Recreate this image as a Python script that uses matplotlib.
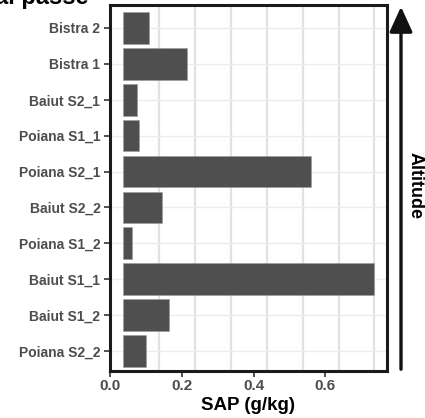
import numpy as np
import matplotlib
matplotlib.use("Agg")
import matplotlib.pyplot as plt

# Samples, listed bottom to top as they appear on the chart
samples = ["Poiana S2_2", "Baiut S1_2", "Baiut S1_1", "Poiana S1_2", "Baiut S2_2",
           "Poiana S2_1", "Poiana S1_1", "Baiut S2_1", "Bistra 1", "Bistra 2"]
# SAP values (g/kg)
sap = [0.099, 0.164, 0.737, 0.062, 0.145, 0.560, 0.082, 0.074, 0.215, 0.109]
# bars in the original start a little right of zero
baseline = 0.037

x_ticks = [0.0, 0.2, 0.4, 0.6]
x_tick_labels = ["0.0", "0.2", "0.4", "0.6"]
grid_x = [0.137, 0.237, 0.337, 0.437, 0.537, 0.637, 0.737]

plt.rcParams['font.family'] = ['Liberation Sans', 'DejaVu Sans']

fig = plt.figure(figsize=(4.25, 4.18), dpi=100)
ax = fig.add_axes([0.2588, 0.1124, 0.6518, 0.8756])

y = np.arange(len(samples))
widths = [v - baseline for v in sap]

# grid first so it sits under the bars
for gx in grid_x:
    ax.axvline(gx, color="#e2e2e2", lw=1.6, zorder=0)
for gy in y:
    ax.axhline(gy, color="#ececec", lw=1.0, zorder=0)

ax.barh(y, widths, left=baseline, height=0.88, color="#4f4f4f",
        edgecolor="#9a9a9a", linewidth=0.4, zorder=2)

ax.set_xlim(0, 0.772)
ax.set_ylim(-0.56, 9.64)
ax.set_yticks(y)
ax.set_yticklabels(samples, fontsize=10, fontweight="bold", color="#4d4d4d")
ax.set_xticks(x_ticks)
ax.set_xticklabels(x_tick_labels, fontsize=11, fontweight="bold", color="#4d4d4d")
ax.tick_params(axis="both", length=4, width=1.2, color="#333333", pad=3)
ax.tick_params(axis="x", pad=1.5)
ax.set_xlabel("SAP (g/kg)", fontsize=13.5, fontweight="bold", labelpad=3)

for s in ax.spines.values():
    s.set_linewidth(2.2)
    s.set_color("#1a1a1a")

# altitude arrow on the right
fig.add_artist(matplotlib.patches.FancyArrowPatch(
    (401 / 425, 1 - 372 / 418), (401 / 425, 1 - 4 / 418),
    transform=fig.transFigure, arrowstyle="-|>,head_length=7,head_width=3.2",
    mutation_scale=2.2, lw=2.4, color="#111111"))
fig.text(415 / 425, 1 - 186 / 418, "Altitude", rotation=-90, fontsize=13,
         fontweight="bold", ha="center", va="center")

# clipped title remnant at the very top
fig.text(-0.012, 1 - 4 / 418, "al passe", fontsize=17, fontweight="bold",
         ha="left", va="baseline")

fig.savefig("out.png", dpi=100)
